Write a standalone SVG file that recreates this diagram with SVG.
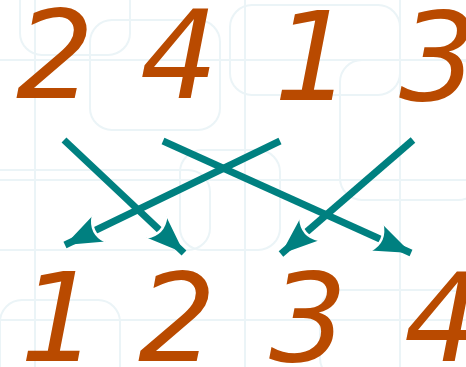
<svg xmlns="http://www.w3.org/2000/svg" width="466" height="367" viewBox="0 0 466 367">
<style>
.d{font-family:"DejaVu Sans",sans-serif;font-style:italic;font-size:123px;fill:#b94a00}
.c{stroke:#008080;stroke-width:7;fill:none;stroke-linecap:butt}
.bg{fill:none;stroke:#ebf4f7;stroke-width:2}
</style>
<defs>
<marker id="ah" markerUnits="userSpaceOnUse" viewBox="-44 -20 48 40" markerWidth="48" markerHeight="40" refX="0" refY="0" orient="auto">
<path d="M0,0 L-38,-14.5 Q-27,0 -38,14.5 Z" fill="#008080"/>
<path d="M-38,-14.5 Q-27,0 -38,14.5" fill="none" stroke="#fff" stroke-width="2.5"/>
</marker>
</defs>
<rect width="466" height="367" fill="#fff"/>
<g id="background">
<rect class="bg" x="20" y="-20" width="110" height="75" rx="22"/>
<rect class="bg" x="90" y="20" width="130" height="110" rx="22"/>
<rect class="bg" x="-20" y="170" width="230" height="80" rx="22"/>
<rect class="bg" x="230" y="5" width="170" height="90" rx="22"/>
<rect class="bg" x="340" y="60" width="140" height="140" rx="22"/>
<rect class="bg" x="180" y="150" width="100" height="100" rx="22"/>
<rect class="bg" x="0" y="300" width="120" height="90" rx="22"/>
<rect class="bg" x="320" y="290" width="150" height="90" rx="22"/>
<line class="bg" x1="0" y1="60" x2="466" y2="60"/>
<line class="bg" x1="0" y1="180" x2="466" y2="180"/>
<line class="bg" x1="0" y1="320" x2="466" y2="320"/>
<line class="bg" x1="35" y1="0" x2="35" y2="367"/>
<line class="bg" x1="245" y1="0" x2="245" y2="367"/>
<line class="bg" x1="400" y1="0" x2="400" y2="367"/>
</g>
<g id="connectors">
<line class="c" x1="64" y1="140" x2="184" y2="253" marker-end="url(#ah)"/>
<line class="c" x1="163" y1="141" x2="411" y2="253" marker-end="url(#ah)"/>
<line class="c" x1="280" y1="141" x2="65" y2="245" marker-end="url(#ah)"/>
<line class="c" x1="413" y1="140" x2="281" y2="254" marker-end="url(#ah)"/>
</g>
<g id="top-2"><text class="d" x="16" y="98">2</text></g>
<g id="top-4"><text class="d" x="140" y="98">4</text></g>
<g id="top-1"><text class="d" x="274" y="100">1</text></g>
<g id="top-3"><text class="d" x="399" y="100">3</text></g>
<g id="bottom-1"><text class="d" x="20" y="361">1</text></g>
<g id="bottom-2"><text class="d" x="138" y="361">2</text></g>
<g id="bottom-3"><text class="d" x="269" y="361">3</text></g>
<g id="bottom-4"><text class="d" x="404" y="361">4</text></g>
</svg>
